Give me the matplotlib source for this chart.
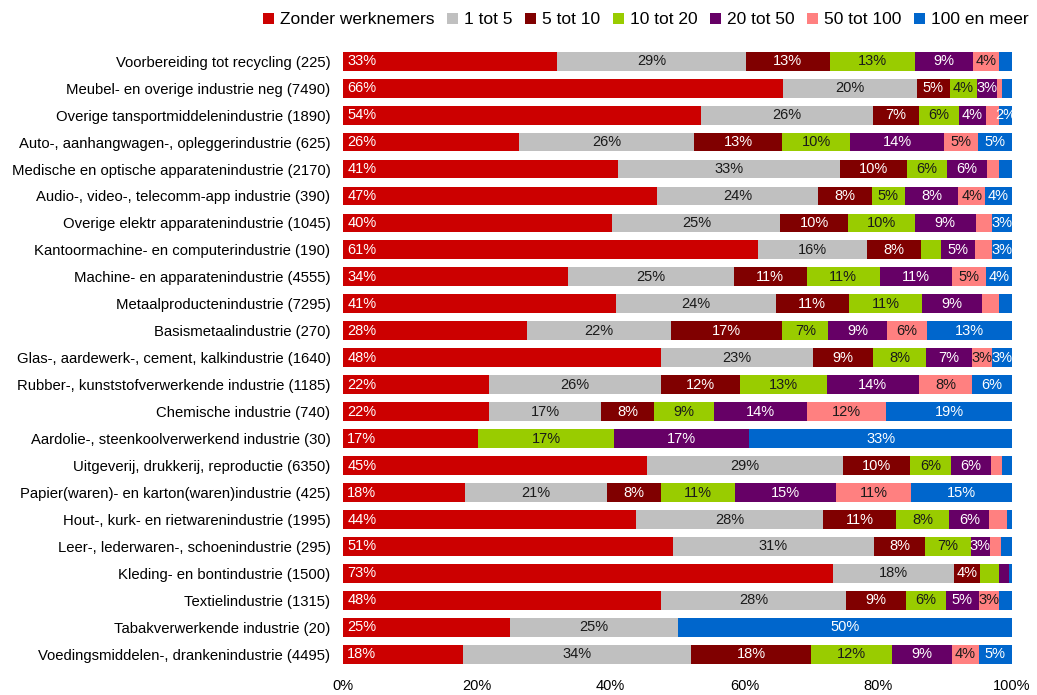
import matplotlib
matplotlib.use("Agg")
import matplotlib.pyplot as plt
import numpy as np
from matplotlib.ticker import PercentFormatter
from matplotlib.patches import Patch

plt.rcParams["font.family"] = ["Liberation Sans", "DejaVu Sans"]

categories = [
    "Voorbereiding tot recycling (225)",
    "Meubel- en overige industrie neg (7490)",
    "Overige tansportmiddelenindustrie (1890)",
    "Auto-, aanhangwagen-, opleggerindustrie (625)",
    "Medische en optische apparatenindustrie (2170)",
    "Audio-, video-, telecomm-app industrie (390)",
    "Overige elektr apparatenindustrie (1045)",
    "Kantoormachine- en computerindustrie (190)",
    "Machine- en apparatenindustrie (4555)",
    "Metaalproductenindustrie (7295)",
    "Basismetaalindustrie (270)",
    "Glas-, aardewerk-, cement, kalkindustrie (1640)",
    "Rubber-, kunststofverwerkende industrie (1185)",
    "Chemische industrie (740)",
    "Aardolie-, steenkoolverwerkend industrie (30)",
    "Uitgeverij, drukkerij, reproductie (6350)",
    "Papier(waren)- en karton(waren)industrie (425)",
    "Hout-, kurk- en rietwarenindustrie (1995)",
    "Leer-, lederwaren-, schoenindustrie (295)",
    "Kleding- en bontindustrie (1500)",
    "Textielindustrie (1315)",
    "Tabakverwerkende industrie (20)",
    "Voedingsmiddelen-, drankenindustrie (4495)",
]

series_names = ["Zonder werknemers", "1 tot 5", "5 tot 10", "10 tot 20",
                "20 tot 50", "50 tot 100", "100 en meer"]

zonder = [33, 66, 54, 26, 41, 47, 40, 61, 34, 41, 28, 48, 22, 22, 17, 45, 18, 44, 51, 73, 48, 25, 18]
tot_5 = [29, 20, 26, 26, 33, 24, 25, 16, 25, 24, 22, 23, 26, 17, 0, 29, 21, 28, 31, 18, 28, 25, 34]
tot_10 = [13, 5, 7, 13, 10, 8, 10, 8, 11, 11, 17, 9, 12, 8, 0, 10, 8, 11, 8, 4, 9, 0, 18]
tot_20 = [13, 4, 6, 10, 6, 5, 10, 2.8, 11, 11, 7, 8, 13, 9, 17, 6, 11, 8, 7, 2.7, 6, 0, 12]
tot_50 = [9, 3, 4, 14, 6, 8, 9, 5, 11, 9, 9, 7, 14, 14, 17, 6, 15, 6, 3, 1.6, 5, 0, 9]
tot_100 = [4, 0.8, 2, 5, 1.8, 4, 2.4, 2.5, 5, 2.5, 6, 3, 8, 12, 0, 1.6, 11, 2.7, 1.7, 0, 3, 0, 4]
meer = [2, 1.5, 2, 5, 1.9, 4, 3, 3, 4, 2, 13, 3, 6, 19, 33, 1.5, 15, 0.7, 1.7, 0.4, 2, 50, 5]

colors = ["#CC0000", "#C0C0C0", "#800000", "#99CC00", "#660066", "#FF8080", "#0066CC"]
text_colors = ["white", "#1a1a1a", "white", "#1a1a1a", "white", "#1a1a1a", "white"]

# label shown for values >= 3, plus these extra (row, series) labels
extra_labels = {(2, 6)}

data = np.array([zonder, tot_5, tot_10, tot_20, tot_50, tot_100, meer], dtype=float)
fracs = data / data.sum(axis=0)

W, H = 1037, 695
fig = plt.figure(figsize=(W / 100, H / 100), dpi=100)
top_px, bot_px = 47.7, 667.8
ax = fig.add_axes([343 / W, 1 - bot_px / H, (1012 - 343) / W, (bot_px - top_px) / H])

y = np.arange(len(categories))
left = np.zeros(len(categories))
for i in range(len(series_names)):
    ax.barh(y, fracs[i], left=left, height=0.70, color=colors[i], linewidth=0)
    for j in range(len(categories)):
        v = data[i, j]
        if v <= 0:
            continue
        if v >= 3 or (j, i) in extra_labels:
            if i == 0:
                ax.annotate(f"{v:.0f}%", xy=(left[j], y[j]), xytext=(3, 0),
                            textcoords="offset points", ha="left", va="center",
                            fontsize=10.5, color=text_colors[i])
            else:
                ax.text(left[j] + fracs[i, j] / 2, y[j], f"{v:.0f}%",
                        ha="center", va="center", fontsize=10.5, color=text_colors[i])
    left += fracs[i]

ax.set_yticks(y)
ax.set_yticklabels(categories, fontsize=10.7)
ax.set_ylim(len(categories) - 0.5, -0.5)
ax.set_xlim(0, 1)
ax.set_xticks(np.linspace(0, 1, 6))
ax.xaxis.set_major_formatter(PercentFormatter(1.0, decimals=0))
ax.tick_params(axis="x", length=0, pad=8, labelsize=10.5)
ax.tick_params(axis="y", length=0, pad=9)
for s in ax.spines.values():
    s.set_visible(False)

handles = [Patch(facecolor=c, edgecolor="none", label=n) for c, n in zip(colors, series_names)]
fig.legend(handles=handles, loc="center", bbox_to_anchor=(646 / W, 1 - 20 / H),
           ncol=7, frameon=False, fontsize=12.5, handlelength=0.65, handleheight=0.65,
           handletextpad=0.35, columnspacing=0.7, borderaxespad=0, borderpad=0)

fig.savefig("out.png", dpi=100)
